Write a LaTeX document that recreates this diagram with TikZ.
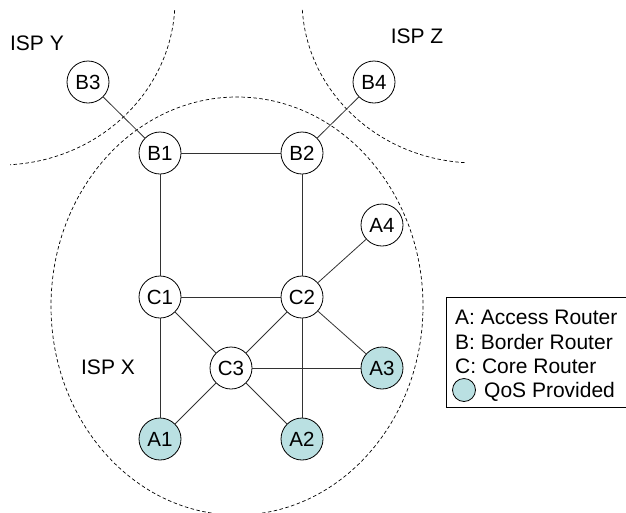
\documentclass[tikz,border=0pt]{standalone}
\usepackage{fontspec}
\setmainfont{Liberation Sans}
\definecolor{qosfill}{RGB}{186,224,226}
\definecolor{linkgray}{RGB}{50,50,50}
\begin{document}
\begin{tikzpicture}[x=1pt,y=-1pt,
  router/.style={circle, draw=black, line width=0.8pt, fill=white,
    minimum size=42pt, inner sep=0pt, font=\fontsize{20.5}{24}\selectfont},
  qos/.style={router, fill=qosfill},
  link/.style={draw=linkgray, line width=0.8pt},
  isp/.style={draw=black, line width=0.7pt, dash pattern=on 3.5pt off 2.5pt},
  lbl/.style={inner sep=0pt, font=\fontsize{21}{25}\selectfont},
  legendtext/.style={inner sep=0pt, anchor=base west, font=\fontsize{21}{25}\selectfont}]
\useasboundingbox (0,0) rectangle (626,512);
\clip (0,0) rectangle (626,512);

% domain boundaries
\draw[isp] (237,306) ellipse[x radius=186, y radius=209];
\draw[isp] ([shift={(3.5:175 and 165)}]0,0) arc[start angle=3.5, end angle=86.7, x radius=175, y radius=165];
\draw[isp] ([shift={(176.5:174 and 163)}]476,0) arc[start angle=176.5, end angle=93.3, x radius=174, y radius=163];

% domain labels
\node[lbl] (ispy) at (37,43) {ISP Y};
\node[lbl] (ispz) at (417,36) {ISP Z};
\node[lbl] (ispx) at (108,367) {ISP X};

% routers
\node[router] (B3) at (88,82) {B3};
\node[router] (B4) at (374,82) {B4};
\node[router] (B1) at (160,153) {B1};
\node[router] (B2) at (302,153) {B2};
\node[router] (A4) at (382,225) {A4};
\node[router] (C1) at (160,297) {C1};
\node[router] (C2) at (302,297) {C2};
\node[router] (C3) at (231,368) {C3};
\node[qos] (A3) at (382,368) {A3};
\node[qos] (A1) at (160,439) {A1};
\node[qos] (A2) at (302,439) {A2};

% links
\draw[link] (B3) -- (B1);
\draw[link] (B4) -- (B2);
\draw[link] (B1) -- (B2);
\draw[link] (B1) -- (C1);
\draw[link] (B2) -- (C2);
\draw[link] (C2) -- (A4);
\draw[link] (C1) -- (C2);
\draw[link] (C1) -- (C3);
\draw[link] (C2) -- (C3);
\draw[link] (C2) -- (A3);
\draw[link] (C2) -- (A2);
\draw[link] (C3) -- (A3);
\draw[link] (C3) -- (A2);
\draw[link] (C3) -- (A1);
\draw[link] (C1) -- (A1);

% legend
\node[draw=black, line width=0.8pt, fill=white, minimum width=184pt, minimum height=110pt,
  anchor=north west, inner sep=0pt] (legend) at (446,297) {};
\node[legendtext] (la) at (455,324.5) {A: Access Router};
\node[legendtext] (lb) at (455,349.5) {B: Border Router};
\node[legendtext] (lc) at (455,373.5) {C: Core Router};
\node[circle, draw=black, line width=0.8pt, fill=qosfill, minimum size=23pt, inner sep=0pt] (lq) at (464,390) {};
\node[legendtext] (ld) at (484,397.5) {QoS Provided};
\end{tikzpicture}
\end{document}
